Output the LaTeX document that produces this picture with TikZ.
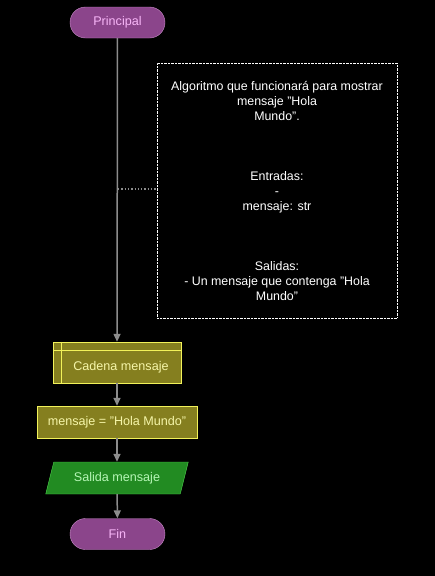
\documentclass[tikz,border=0pt]{standalone}
\usepackage{fontspec}
\setmainfont{Liberation Sans}
\usetikzlibrary{shapes.geometric,arrows.meta}
\definecolor{termfill}{HTML}{8B458B}
\definecolor{termdraw}{HTML}{C98BC9}
\definecolor{termtext}{HTML}{F7B5F7}
\definecolor{procfill}{HTML}{857F1F}
\definecolor{procdraw}{HTML}{F2F25A}
\definecolor{proctext}{HTML}{F5F5A8}
\definecolor{iofill}{HTML}{228B22}
\definecolor{iodraw}{HTML}{4BD04B}
\definecolor{iotext}{HTML}{B5F5B5}
\definecolor{linegray}{HTML}{8C8C8C}
\tikzset{
  term/.style={draw=termdraw, fill=termfill, text=termtext, rounded corners=15.5pt, minimum width=95pt, minimum height=31pt, inner sep=0pt, font=\fontsize{12.6}{15}\selectfont},
  proc/.style={draw=procdraw, fill=procfill, text=proctext, inner sep=0pt, font=\fontsize{12.6}{15}\selectfont},
  io/.style={trapezium, trapezium left angle=65, trapezium right angle=115, draw=iodraw, fill=iofill, text=iotext, inner sep=0pt, minimum height=32pt, trapezium stretches=true, minimum width=144pt, font=\fontsize{12.6}{15}\selectfont},
  note/.style={draw=white, densely dotted, text=white, align=center, font=\fontsize{12.4}{15}\selectfont, minimum width=240pt, minimum height=255pt, inner sep=0pt},
  flow/.style={draw=linegray, line width=1.5pt, -{Triangle[length=8pt,width=7pt]}},
}
\begin{document}
\begin{tikzpicture}[x=1pt,y=-1pt]
\useasboundingbox[fill=black] (0,0) rectangle (435,576);
\node[term] (ini) at (117.5,22.5) {Principal};
\node[note] (nt) at (277,190.5) {Algoritmo que funcionará para mostrar\\mensaje "Hola\\Mundo".\\[45pt]Entradas:\\-\\mensaje: str\\[45pt]Salidas:\\- Un mensaje que contenga "Hola\\Mundo"};
\node[proc, minimum width=128pt, minimum height=41pt] (cad) at (117,362.5) {\hspace*{8pt}\rule{0pt}{18pt}Cadena mensaje};
\draw[procdraw] ([yshift=-8pt]cad.north west) -- ([yshift=-8pt]cad.north east);
\draw[procdraw] ([xshift=8pt]cad.north west) -- ([xshift=8pt]cad.south west);
\node[proc, minimum width=160pt, minimum height=32pt] (asg) at (117,422) {mensaje = "Hola Mundo"};
\node[io] (sal) at (117,478) {Salida mensaje};
\node[term] (fin) at (117.5,534) {Fin};
\coordinate (tap) at (118,189);
\draw[flow] (ini) -- (cad);
\draw[flow] (cad) -- (asg);
\draw[flow] (asg) -- (sal);
\draw[flow] (sal) -- (fin);
\draw[linegray, line width=1.3pt, dotted] (tap) -- (nt.west |- tap);
\end{tikzpicture}
\end{document}
